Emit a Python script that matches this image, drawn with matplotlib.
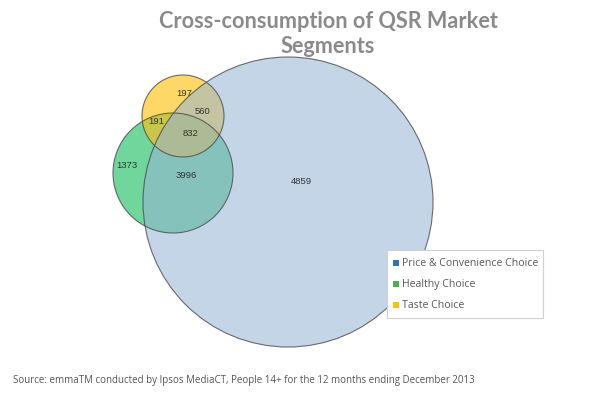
import matplotlib
matplotlib.use("Agg")
import matplotlib.pyplot as plt
from matplotlib.patches import Circle, Rectangle

title = "Cross-consumption of QSR Market\nSegments"
series = ["Price & Convenience Choice", "Healthy Choice", "Taste Choice"]
series_colors = ["#2e75b6", "#4caf50", "#ffc000"]
region_labels = ["197", "560", "191", "832", "1373", "3996", "4859"]
region_values = [197, 560, 191, 832, 1373, 3996, 4859]
source = "Source: emmaTM conducted by Ipsos MediaCT, People 14+ for the 12 months ending December 2013"

plt.rcParams['font.family'] = ['Open Sans', 'DejaVu Sans']

fig = plt.figure(figsize=(6.04, 3.99), dpi=100)
ax = fig.add_axes([0, 0, 1, 1])
ax.set_xlim(0, 604)
ax.set_ylim(399, 0)
ax.set_aspect('equal')
ax.axis('off')

# circles (pixel layout): healthy bottom, taste middle, price on top
green_c, green_r = (173, 173), 60
yellow_c, yellow_r = (183, 116), 41
blue_c, blue_r = (288, 202), 145

ax.add_patch(Circle(green_c, green_r, facecolor="#70d69c", edgecolor='none', zorder=1))
# olive tint where taste overlaps healthy
ax.add_patch(Circle(yellow_c, yellow_r, facecolor="#fdd866", edgecolor='none', zorder=1.1))
gclip = Circle(green_c, green_r, transform=ax.transData)
ov = Circle(yellow_c, yellow_r, facecolor="#b8c040", alpha=0.75, edgecolor='none', zorder=1.2)
ax.add_patch(ov)
ov.set_clip_path(gclip)
ax.add_patch(Circle(blue_c, blue_r, facecolor="#95b3d5", alpha=0.55, edgecolor='none', zorder=1.3))
for c, r in [(green_c, green_r), (yellow_c, yellow_r), (blue_c, blue_r)]:
    ax.add_patch(Circle(c, r, facecolor='none', edgecolor='#4a4a4a', lw=0.8, alpha=0.8, zorder=2))

label_pos = [(184, 94), (203, 112), (156, 121), (191, 134), (127, 166), (186, 176), (301, 182)]
for lab, (x, y) in zip(region_labels, label_pos):
    ax.text(x, y, lab, fontsize=6.8, color='#333333', ha='center', va='center',
            family=['Liberation Sans'], zorder=3)

ax.text(328, 34, title, fontsize=15.6, fontweight='bold', color='#8a8a8a',
        ha='center', va='center', linespacing=1.25, family=['Lato', 'DejaVu Sans'])

# legend
ax.add_patch(Rectangle((387, 250), 156, 68, facecolor='white', edgecolor='#d0d0d0', lw=0.8, zorder=4))
for i, (s, col) in enumerate(zip(series, series_colors)):
    y = 263 + i * 21
    ax.add_patch(Rectangle((393, y - 3), 6, 6, facecolor=col, edgecolor='none', zorder=5))
    ax.text(402, y, s, fontsize=7.6, color='#595959', va='center', ha='left', zorder=5)

ax.text(13, 380, source, fontsize=7.0, color='#555555', va='center', ha='left')

fig.savefig("out.png", dpi=100)
